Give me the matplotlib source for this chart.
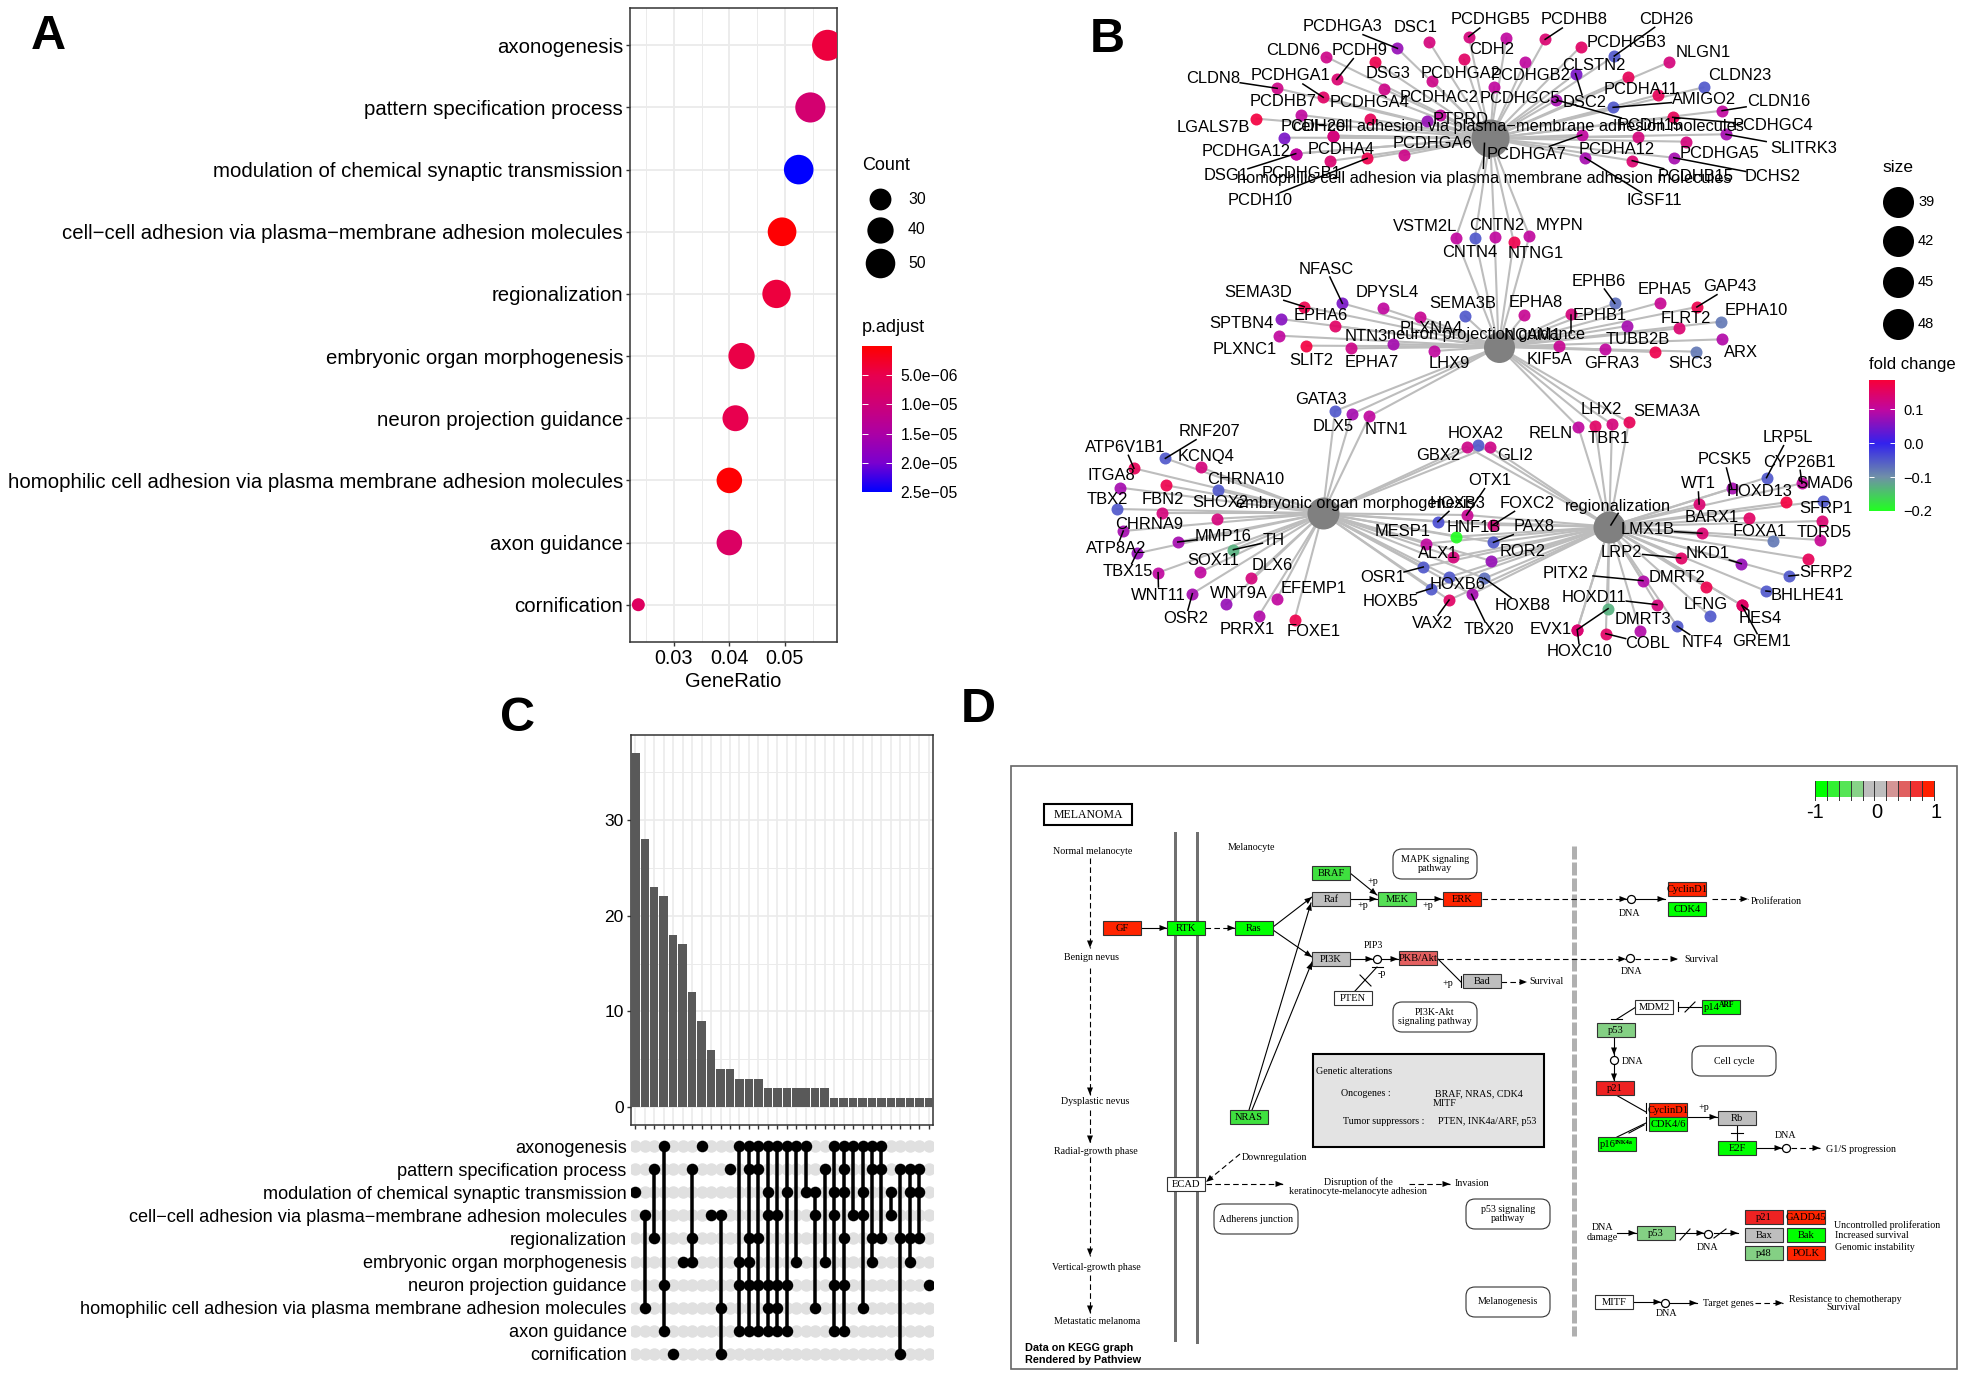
import numpy as np
import matplotlib
matplotlib.use('Agg')
import matplotlib.pyplot as plt
from matplotlib.colors import LinearSegmentedColormap, Normalize
from matplotlib.patches import Rectangle, FancyBboxPatch

plt.rcParams['font.family'] = ['Liberation Sans', 'DejaVu Sans']

W, H = 1965, 1378
DPI = 100

# ---- panel A data
terms = ['axonogenesis', 'pattern specification process',
         'modulation of chemical synaptic transmission',
         'cell\u2212cell adhesion via plasma\u2212membrane adhesion molecules',
         'regionalization', 'embryonic organ morphogenesis',
         'neuron projection guidance',
         'homophilic cell adhesion via plasma membrane adhesion molecules',
         'axon guidance', 'cornification']
gene_ratio = [0.0577, 0.0546, 0.0525, 0.0495, 0.0485, 0.0422, 0.0411, 0.0400, 0.0400, 0.0236]
counts = [55, 52, 50, 47, 46, 40, 39, 38, 38, 22]
p_adjust = [4e-6, 9e-6, 2.5e-5, 2e-7, 4e-6, 4.5e-6, 5e-6, 2e-7, 7.5e-6, 7e-6]
count_legend = [30, 40, 50]
padj_ticks = [5e-6, 1e-5, 1.5e-5, 2e-5, 2.5e-5]
padj_labels = ['5.0e\u221206', '1.0e\u221205', '1.5e\u221205', '2.0e\u221205', '2.5e\u221205']

# ---- panel B data: (gene, node x, node y, fold change, label x, label y, has segment)
# x, y measured on an enlargement of the panel
adhesion_nodes = [
    ('PCDHGA3', 565, 145, .07, 468, 80, 1), ('DSC1', 622, 127, .13, 598, 82, 0),
    ('PCDHGB5', 692, 110, .13, 730, 60, 1), ('CDH2', 759, 113, .1, 733, 150, 0),
    ('PCDHB8', 828, 118, .14, 880, 60, 1), ('PCDHGB3', 891, 140, .15, 972, 128, 0),
    ('CDH26', 951, 168, -.05, 1043, 58, 1), ('', 683, 178, .15, 0, 0, 0),
    ('CLDN6', 438, 170, .12, 380, 152, 0), ('PCDH9', 457, 238, .14, 498, 152, 1),
    ('', 525, 186, .17, 0, 0, 0), ('CLDN8', 351, 265, .12, 237, 236, 1),
    ('PCDHGA1', 433, 292, .15, 375, 228, 1), ('DSG3', 542, 268, .12, 548, 220, 0),
    ('PCDHGA2', 626, 242, .12, 678, 222, 0), ('PCDHGB2', 792, 187, .1, 802, 225, 0),
    ('PCDHGC5', 737, 260, .1, 783, 295, 0), ('DSC2', 882, 221, .05, 898, 308, 1),
    ('CLSTN2', 976, 231, .16, 915, 195, 0), ('NLGN1', 1048, 187, .13, 1110, 157, 0),
    ('CLDN23', 1110, 262, -.05, 1175, 226, 0), ('PCDHA11', 1028, 285, .16, 998, 267, 0),
    ('AMIGO2', 949, 322, -.05, 1110, 300, 1), ('CLDN16', 1143, 332, .1, 1243, 305, 1),
    ('PCDH15', 848, 300, .08, 1015, 378, 1), ('PCDHGC4', 1055, 352, .16, 1233, 378, 1),
    ('PCDHB7', 393, 345, .1, 362, 305, 0), ('PCDHGA4', 516, 358, .16, 515, 308, 0),
    ('PCDHAC2', 640, 345, .1, 640, 293, 0), ('PTPRD', 617, 362, .07, 678, 360, 0),
    ('LGALS7B', 314, 356, .18, 237, 382, 0), ('PCDH20', 364, 413, .05, 415, 380, 0),
    ('', 451, 407, .13, 0, 0, 0), ('PCDHGA12', 384, 461, .1, 295, 453, 0),
    ('PCDHA4', 445, 483, .14, 465, 450, 0), ('PCDH10', 511, 475, .17, 320, 602, 1),
    ('DSG1', 384, 461, .1, 260, 527, 1), ('PCDHGB1', 451, 407, .13, 395, 520, 0),
    ('PCDHGA6', 577, 465, .12, 627, 432, 0), ('PCDHGA7', 893, 405, .1, 795, 463, 1),
    ('IGSF11', 899, 473, .08, 1023, 602, 1), ('PCDHA12', 993, 410, .13, 955, 450, 0),
    ('PCDHB15', 983, 482, .14, 1095, 530, 1), ('PCDHGA5', 1079, 425, .13, 1138, 462, 0),
    ('DCHS2', 1057, 473, .08, 1233, 530, 1), ('SLITRK3', 1150, 403, .08, 1288, 445, 1),
]
shared_adhesion_guidance = [
    ('VSTM2L', 669, 713, .1, 615, 680, 0), ('CNTN4', 703, 713, -.05, 693, 757, 0),
    ('CNTN2', 738, 710, .1, 742, 677, 0), ('NTNG1', 772, 725, .17, 812, 762, 0),
    ('MYPN', 800, 708, .1, 853, 677, 0),
]
guidance_nodes = [
    ('NFASC', 467, 910, .05, 438, 807, 1), ('SEMA3D', 399, 920, .17, 317, 877, 1),
    ('DPYSL4', 539, 925, .1, 547, 877, 0), ('SPTBN4', 357, 957, .06, 288, 970, 0),
    ('EPHA6', 454, 978, .15, 428, 948, 0), ('SEMA3B', 685, 947, -.05, 682, 912, 0),
    ('PLXNA4', 606, 950, .11, 625, 985, 0), ('EPHA8', 791, 945, .11, 811, 908, 0),
    ('EPHB6', 952, 910, -.07, 923, 843, 1), ('EPHA5', 1032, 908, .11, 1040, 870, 0),
    ('GAP43', 1098, 921, .17, 1157, 860, 1), ('EPHA10', 1141, 965, -.08, 1204, 932, 0),
    ('EPHB1', 974, 978, .08, 925, 948, 0), ('FLRT2', 1067, 985, .14, 1078, 955, 0),
    ('TUBB2B', 1023, 1056, .17, 992, 1020, 0), ('PLXNC1', 355, 1007, .1, 293, 1047, 0),
    ('SLIT2', 403, 1037, .18, 411, 1082, 0), ('NTN3', 557, 1032, .08, 510, 1010, 0),
    ('EPHA7', 483, 1045, .12, 520, 1087, 0), ('LHX9', 631, 1053, .1, 657, 1090, 0),
    ('KIF5A', 853, 1038, .11, 836, 1077, 0), ('GFRA3', 934, 1048, .1, 947, 1092, 0),
    ('SHC3', 1097, 1055, -.08, 1087, 1090, 0), ('ARX', 1143, 1018, .09, 1177, 1057, 0),
    ('NCAM1', 874, 942, .13, 806, 1005, 0),
]
shared_guidance_organ = [
    ('GATA3', 454, 1233, -.05, 428, 1200, 0), ('DLX5', 484, 1242, .08, 450, 1280, 0),
    ('NTN1', 515, 1249, .1, 545, 1287, 0),
]
shared_guidance_region = [
    ('RELN', 887, 1281, .1, 837, 1300, 0), ('LHX2', 917, 1277, .15, 928, 1230, 0),
    ('TBR1', 947, 1273, .13, 941, 1315, 0), ('SEMA3A', 977, 1267, .16, 1045, 1233, 0),
]
organ_nodes = [
    ('RNF207', 152, 1375, -.05, 230, 1295, 1), ('ATP6V1B1', 96, 1405, .16, 80, 1342, 1),
    ('KCNQ4', 215, 1402, .13, 225, 1368, 0), ('ITGA8', 71, 1463, .08, 55, 1428, 0),
    ('CHRNA10', 246, 1471, -.05, 295, 1438, 0), ('FBN2', 153, 1456, .17, 147, 1500, 0),
    ('TBX2', 65, 1527, -.05, 48, 1497, 0), ('SHOX2', 244, 1556, .13, 250, 1508, 0),
    ('CHRNA9', 146, 1540, .13, 123, 1573, 0), ('ATP8A2', 77, 1593, .08, 65, 1645, 1),
    ('MMP16', 174, 1626, .08, 255, 1610, 1), ('TBX15', 101, 1660, .07, 85, 1715, 1),
    ('TH', 273, 1649, -.13, 345, 1622, 1), ('SOX11', 213, 1717, .1, 237, 1682, 0),
    ('DLX6', 305, 1735, .13, 342, 1696, 0), ('WNT11', 139, 1718, .1, 140, 1785, 1),
    ('OSR2', 200, 1781, .08, 188, 1855, 1), ('WNT9A', 260, 1813, .07, 283, 1780, 0),
    ('EFEMP1', 350, 1798, .1, 415, 1765, 0), ('PRRX1', 318, 1848, .09, 298, 1887, 0),
    ('FOXE1', 382, 1859, .17, 415, 1895, 0),
]
shared_organ_region = [
    ('HOXA2', 709, 1335, -.05, 704, 1300, 0), ('GBX2', 688, 1340, .12, 638, 1368, 0),
    ('GLI2', 729, 1340, .12, 775, 1368, 0), ('OTX1', 688, 1545, .11, 730, 1442, 1),
    ('HOXB3', 637, 1565, -.04, 672, 1510, 1), ('FOXC2', 735, 1575, .13, 796, 1510, 1),
    ('HNF1B', 670, 1610, -.2, 700, 1582, 0), ('PAX8', 736, 1627, -.05, 808, 1580, 1),
    ('MESP1', 615, 1631, .1, 575, 1593, 0), ('ALX1', 664, 1671, .13, 637, 1662, 0),
    ('ROR2', 731, 1682, .07, 787, 1655, 0), ('OSR1', 611, 1701, -.05, 538, 1733, 1),
    ('HOXB6', 657, 1731, -.05, 672, 1753, 0), ('HOXB8', 720, 1735, -.07, 787, 1817, 1),
    ('HOXB5', 624, 1766, -.05, 553, 1803, 1), ('VAX2', 657, 1800, .15, 627, 1870, 1),
    ('TBX20', 697, 1783, .08, 728, 1890, 1),
]
region_nodes = [
    ('LRP5L', 1222, 1433, -.05, 1260, 1313, 1), ('PCSK5', 1160, 1465, .08, 1147, 1380, 1),
    ('CYP26B1', 1285, 1450, .1, 1280, 1387, 1), ('HOXD13', 1257, 1507, .18, 1210, 1473, 0),
    ('SMAD6', 1323, 1503, -.05, 1325, 1452, 0), ('SFRP1', 1320, 1563, .14, 1327, 1525, 0),
    ('WT1', 1102, 1512, .14, 1100, 1452, 1), ('BARX1', 1191, 1553, .15, 1125, 1553, 0),
    ('FOXA1', 1234, 1623, -.08, 1210, 1593, 0), ('TDRD5', 1317, 1620, .11, 1325, 1598, 0),
    ('LMX1B', 1107, 1600, .14, 1010, 1590, 1), ('NKD1', 1177, 1691, .07, 1117, 1660, 1),
    ('LRP2', 1069, 1674, .15, 963, 1657, 1), ('SFRP2', 1262, 1728, -.05, 1327, 1717, 1),
    ('', 1296, 1677, .16, 0, 0, 0), ('PITX2', 1002, 1742, .09, 865, 1720, 1),
    ('DMRT2', 1114, 1761, .17, 1062, 1732, 0), ('BHLHE41', 1221, 1773, -.05, 1295, 1787, 1),
    ('HOXD11', 1027, 1814, .13, 915, 1792, 1), ('LFNG', 1121, 1847, -.05, 1113, 1813, 0),
    ('HES4', 1178, 1816, .15, 1210, 1855, 1), ('GREM1', 1178, 1816, .15, 1213, 1925, 1),
    ('DMRT3', 997, 1893, .09, 1002, 1858, 0), ('NTF4', 1063, 1879, -.05, 1107, 1928, 1),
    ('EVX1', 885, 1889, .14, 838, 1888, 0), ('HOXC10', 885, 1889, .14, 890, 1955, 1),
    ('', 940, 1826, -.13, 885, 1889, 1), ('COBL', 936, 1901, .15, 1010, 1932, 1),
]
# hub x, y, diameter in pixels
adhesion_hub = (730, 415, 38)
guidance_hub = (745, 1040, 31)
organ_hub = (432, 1540, 32)
region_hub = (942, 1580, 32)
extra_segments = [(720, 430, 718, 505), (945, 1575, 958, 1540), (874, 945, 874, 1000)]
size_legend = [39, 42, 45, 48]
fc_ticks = [0.1, 0.0, -0.1, -0.2]
fc_labels = ['0.1', '0.0', '\u22120.1', '\u22120.2']

# ---- panel C data
set_sizes = [37, 28, 23, 22, 18, 17, 12, 9, 6, 4, 4, 3, 3, 3, 2, 2, 2, 2, 2, 2, 2,
             1, 1, 1, 1, 1, 1, 1, 1, 1, 1, 1]
set_members = [[3], [4, 8], [2, 5], [1, 7, 9], [10], [6], [2, 5, 6], [1], [4], [4, 8, 10],
               [2], [1, 6, 7, 9], [1, 2, 5, 6, 7, 9], [1, 2, 5, 7, 9], [1, 3, 4, 7, 8, 9],
               [1, 4, 7, 8, 9], [1, 3, 7, 9], [1, 6], [1, 3], [3, 4, 8], [2, 6],
               [1, 3, 4, 7, 9], [1, 2, 3, 5, 7, 9], [1, 4], [1, 3, 4, 8], [1, 2, 5, 6],
               [1, 2, 5], [3, 4], [2, 5, 10], [2, 3, 5, 6], [2, 3, 5], [7]]

# ---- panel D data: (label, centre x, centre y, fill)
RED, GREEN, LGREEN, MGREEN, GREY, WHITE = '#FF2400', '#00FF00', '#84D084', '#3FE03F', '#BEBEBE', '#FFFFFF'
kegg_boxes = [
    ('BRAF', 1331, 873, MGREEN), ('Raf', 1331, 899, GREY), ('MEK', 1397, 899, '#55E055'),
    ('ERK', 1462, 899, RED), ('GF', 1122, 928, RED), ('RTK', 1186, 928, GREEN),
    ('Ras', 1254, 928, GREEN), ('PI3K', 1331, 959, GREY), ('PKB/Akt', 1418, 958, '#E46060'),
    ('Bad', 1482, 981, GREY), ('PTEN', 1353, 998, WHITE), ('CyclinD1', 1687, 889, RED),
    ('CDK4', 1687, 909, GREEN), ('MDM2', 1654, 1007, WHITE), ('p14', 1721, 1007, GREEN),
    ('p53', 1616, 1030, LGREEN), ('p21', 1615, 1088, '#EE2222'), ('CyclinD1', 1668, 1110, RED),
    ('CDK4/6', 1668, 1124, GREEN), ('Rb', 1737, 1118, GREY), ('p16', 1617, 1144, GREEN),
    ('E2F', 1737, 1148, GREEN), ('NRAS', 1249, 1117, MGREEN), ('ECAD', 1186, 1184, WHITE),
    ('p53', 1656, 1233, LGREEN), ('p21', 1764, 1217, '#EE2222'), ('GADD45', 1806, 1217, RED),
    ('Bax', 1764, 1235, GREY), ('Bak', 1806, 1235, GREEN), ('p48', 1764, 1253, LGREEN),
    ('POLK', 1806, 1253, RED), ('MITF', 1614, 1302, WHITE),
]
kegg_round = [
    ('MAPK signaling\npathway', 1435, 864), ('PI3K-Akt\nsignaling pathway', 1435, 1017),
    ('Cell cycle', 1734, 1061), ('Adherens junction', 1256, 1219),
    ('p53 signaling\npathway', 1508, 1214), ('Melanogenesis', 1508, 1302),
]
kegg_text = [
    ('Normal melanocyte', 1093, 851), ('Benign nevus', 1092, 957), ('Dysplastic nevus', 1095, 1102),
    ('Radial-growth phase', 1096, 1151), ('Vertical-growth phase', 1096, 1268),
    ('Metastatic melanoma', 1097, 1322), ('Melanocyte', 1251, 847), ('Proliferation', 1776, 901),
    ('DNA', 1630, 913), ('PIP3', 1373, 946), ('Survival', 1702, 960), ('DNA', 1632, 972),
    ('Survival', 1547, 982), ('+p', 1373, 882), ('+p', 1363, 906), ('+p', 1428, 906),
    ('+p', 1448, 983), ('-p', 1382, 973), ('DNA', 1633, 1062), ('+p', 1704, 1108),
    ('DNA', 1786, 1136), ('G1/S progression', 1861, 1149), ('Downregulation', 1274, 1158),
    ('Disruption of the', 1358, 1182), ('keratinocyte-melanocyte adhesion', 1358, 1191),
    ('Invasion', 1472, 1184), ('DNA', 1603, 1228), ('damage', 1602, 1238), ('DNA', 1708, 1247),
    ('DNA', 1667, 1313), ('Target genes', 1728, 1304), ('Resistance to chemotherapy', 1845, 1299),
    ('Survival', 1844, 1308),
]
kegg_left_text = [
    ('Genetic alterations', 1316, 1072), ('Oncogenes :', 1341, 1094), ('BRAF, NRAS, CDK4', 1435, 1094),
    ('MITF', 1433, 1104), ('Tumor suppressors :', 1343, 1121), ('PTEN, INK4a/ARF, p53', 1438, 1121),
    ('Uncontrolled proliferation', 1834, 1225), ('Increased survival', 1835, 1236),
    ('Genomic instability', 1835, 1248),
]
# (x0, y0, x1, y1, dashed)
kegg_arrows = [
    (1090, 858, 1090, 948, 1), (1090, 968, 1090, 1095, 1), (1090, 1110, 1090, 1143, 1),
    (1090, 1157, 1090, 1256, 1), (1090, 1275, 1090, 1313, 1),
    (1141, 928, 1167, 928, 0), (1205, 928, 1235, 928, 1), (1273, 927, 1312, 897, 0),
    (1273, 930, 1312, 957, 0), (1249, 1110, 1311, 903, 0), (1252, 1110, 1312, 962, 0),
    (1350, 873, 1377, 895, 0), (1350, 899, 1377, 899, 0), (1417, 899, 1442, 899, 0),
    (1482, 899, 1627, 899, 1), (1636, 899, 1665, 899, 0), (1712, 899, 1748, 899, 1),
    (1350, 959, 1373, 959, 0), (1381, 959, 1398, 959, 0), (1438, 959, 1626, 959, 1),
    (1635, 959, 1678, 959, 1), (1501, 982, 1527, 982, 1), (1614, 1038, 1614, 1055, 0),
    (1614, 1064, 1614, 1081, 0), (1688, 1117, 1717, 1117, 0), (1756, 1148, 1782, 1148, 0),
    (1791, 1148, 1820, 1148, 1), (1240, 1154, 1206, 1182, 1), (1206, 1184, 1283, 1184, 1),
    (1409, 1184, 1450, 1184, 1), (1617, 1233, 1636, 1233, 0), (1676, 1233, 1704, 1233, 0),
    (1714, 1233, 1738, 1233, 0), (1634, 1302, 1661, 1302, 0), (1670, 1303, 1697, 1303, 0),
    (1755, 1303, 1783, 1303, 1),
]
# plain lines: inhibition edges, their bars and crossings
kegg_lines = [
    (1438, 959, 1461, 982), (1461, 976, 1461, 987), (1355, 991, 1377, 967), (1372, 967, 1383, 967),
    (1360, 975, 1371, 986), (1636, 1007, 1617, 1019), (1611, 1019, 1622, 1019),
    (1702, 1007, 1678, 1007), (1678, 1002, 1678, 1011), (1685, 1012, 1695, 1002),
    (1616, 1095, 1646, 1112), (1646, 1103, 1646, 1113), (1646, 1117, 1646, 1130),
    (1617, 1137, 1646, 1123), (1629, 1133, 1644, 1125), (1737, 1125, 1737, 1141),
    (1731, 1133, 1743, 1133), (1680, 1240, 1690, 1229), (1714, 1238, 1726, 1229),
]
kegg_circles = [(1631, 899), (1377, 959), (1630, 958), (1614, 1060), (1786, 1148), (1708, 1234), (1665, 1303)]
key_colors = ['#00FF00', '#33F033', '#55E555', '#88D288', '#BEBEBE', '#BEBEBE', '#D49595', '#E06060', '#F03030', '#FF2000']
key_labels = ['-1', '0', '1']


def px_axes(left, top, right, bottom):
    return fig.add_axes([left / W, 1 - bottom / H, (right - left) / W, (bottom - top) / H])


def px2pt(v):
    return v * 72.0 / DPI


fig = plt.figure(figsize=(W / DPI, H / DPI), dpi=DPI, facecolor='white')

# ---- A: dot plot
padj_cmap = LinearSegmentedColormap.from_list('padj', ['#FF0000', '#E8004F', '#CE0078', '#AC00A5', '#7B00CF', '#0000FF'])
padj_norm = Normalize(0, 2.5e-5)


def count_size(c):
    d = 13 + 18 * np.sqrt((np.asarray(c, float) - 22) / 33.0)
    return px2pt(d) ** 2


ax = px_axes(630, 8, 837, 642)
ax.set_xlim(0.0221, 0.0594)
ax.set_ylim(10.6, 0.4)
ax.set_axisbelow(True)
ax.set_xticks([0.03, 0.04, 0.05])
ax.set_xticks([0.025, 0.035, 0.045, 0.055], minor=True)
ax.set_xticklabels(['0.03', '0.04', '0.05'], fontsize=14.2)
ax.set_yticks(range(1, 11))
ax.set_yticklabels(terms, fontsize=14.7)
ax.tick_params(axis='both', which='major', length=3, width=1, color='#333333', pad=2)
ax.tick_params(axis='x', which='minor', length=0)
ax.grid(which='major', color='#EBEBEB', lw=1.3)
ax.grid(which='minor', color='#EBEBEB', lw=0.7)
ax.scatter(gene_ratio, range(1, 11), s=count_size(counts), c=p_adjust, cmap=padj_cmap, norm=padj_norm, zorder=3, lw=0)
ax.set_xlabel('GeneRatio', fontsize=14.5, labelpad=3)
for s in ax.spines.values():
    s.set_color('#333333')
    s.set_linewidth(1.1)

cax = px_axes(862, 346, 892, 492)
cax.imshow(np.linspace(0, 2.5e-5, 256)[:, None], aspect='auto', cmap=padj_cmap, norm=padj_norm, extent=[0, 1, 2.5e-5, 0])
cax.hlines(padj_ticks, 0, 0.2, color='white', lw=0.7)
cax.hlines(padj_ticks, 0.8, 1, color='white', lw=0.7)
cax.set_xticks([])
cax.yaxis.tick_right()
cax.set_yticks(padj_ticks)
cax.set_yticklabels(padj_labels, fontsize=11.3)
cax.tick_params(length=0, pad=6)
for s in cax.spines.values():
    s.set_visible(False)

# ---- pixel overlay used for panel B, panel D and legends
pax = fig.add_axes([0, 0, 1, 1], facecolor='none')
pax.set_xlim(0, W)
pax.set_ylim(H, 0)
pax.axis('off')

for name, x, y in [('A', 31, 49), ('B', 1090, 52), ('C', 500, 731), ('D', 961, 722)]:
    pax.text(x, y, name, fontsize=35, fontweight='bold', ha='left', va='baseline')

pax.text(862, 166, 'Count', fontsize=13, va='center')
pax.text(862, 328, 'p.adjust', fontsize=13, va='center')
for c, y in zip(count_legend, [199, 230, 263]):
    pax.scatter([880], [y], s=count_size(c), color='black', lw=0)
    pax.text(908, y, str(c), fontsize=11.3, va='center')

# ---- B: gene-concept network
fc_cmap = LinearSegmentedColormap.from_list('fc', [(0, '#22FF22'), (0.1 / 0.387, '#7090A8'), (0.2 / 0.387, '#3322EE'),
                                                   (0.3 / 0.387, '#C008A0'), (1, '#F8003A')])
fc_norm = Normalize(-0.2, 0.187)


def bx(v):
    return 1080 + np.asarray(v, float) / 1.78


def by(v):
    return np.asarray(v, float) / 3.0


groups = [(adhesion_nodes, [adhesion_hub]), (shared_adhesion_guidance, [adhesion_hub, guidance_hub]),
          (guidance_nodes, [guidance_hub]), (shared_guidance_organ, [guidance_hub, organ_hub]),
          (shared_guidance_region, [guidance_hub, region_hub]), (organ_nodes, [organ_hub]),
          (shared_organ_region, [organ_hub, region_hub]), (region_nodes, [region_hub])]

for rows, hubs in groups:
    for row in rows:
        for hub in hubs:
            pax.plot(bx([row[1], hub[0]]), by([row[2], hub[1]]), color='#BDBDBD', lw=1.5, zorder=1, solid_capstyle='round')
for hub in [adhesion_hub, guidance_hub, organ_hub, region_hub]:
    pax.scatter(bx(hub[0]), by(hub[1]), s=px2pt(hub[2]) ** 2, color='#808080', lw=0, zorder=2)
for rows, hubs in groups:
    for name, x, y, fc, lx, ly, seg in rows:
        pax.scatter(bx(x), by(y), s=px2pt(12) ** 2, color=fc_cmap(fc_norm(fc)), alpha=0.92, lw=0, zorder=3)
        if seg:
            # ggrepel style segment from the label box edge to the node
            dx, dy = bx(x) - bx(lx), by(y) - by(ly)
            hw, hh = len(name) * 5.2 + 1, 8
            t = min(hw / max(abs(dx), 1e-6), hh / max(abs(dy), 1e-6), 1)
            pax.plot([bx(lx) + t * dx, bx(x)], [by(ly) + t * dy, by(y)], color='black', lw=1.1, zorder=4)
        if name:
            pax.text(bx(lx), by(ly), name, fontsize=11.9, ha='center', va='center', zorder=5)

for x0, y0, x1, y1 in extra_segments:
    pax.plot(bx([x0, x1]), by([y0, y1]), color='black', lw=1.1, zorder=4)
pax.text(bx(780), by(380), terms[3], fontsize=11.8, ha='center', va='center', zorder=5)
pax.text(bx(720), by(535), terms[7], fontsize=11.8, ha='center', va='center', zorder=5)
pax.text(bx(722), by(1002), terms[6], fontsize=11.8, ha='center', va='center', zorder=5)
pax.text(bx(490), by(1510), terms[5], fontsize=11.8, ha='center', va='center', zorder=5)
pax.text(bx(958), by(1520), terms[4], fontsize=11.8, ha='center', va='center', zorder=5)

pax.text(1882, 168, 'size', fontsize=12.5, ha='left', va='center')
for s, y in zip(size_legend, [202, 241, 282, 324]):
    pax.scatter([1898], [y], s=px2pt(31) ** 2, color='black', lw=0)
    pax.text(1918, y, str(s), fontsize=10.5, va='center')
pax.text(1869, 365, 'fold change', fontsize=12, ha='left', va='center')

fax = px_axes(1869, 380, 1895, 511)
fax.imshow(np.linspace(0.187, -0.2, 256)[:, None], aspect='auto', cmap=fc_cmap, norm=fc_norm, extent=[0, 1, -0.2, 0.187])
fax.hlines(fc_ticks[:3], 0, 0.2, color='white', lw=0.7)
fax.hlines(fc_ticks[:3], 0.8, 1, color='white', lw=0.7)
fax.set_xticks([])
fax.yaxis.tick_right()
fax.set_yticks(fc_ticks)
fax.set_yticklabels(fc_labels, fontsize=10.5)
fax.tick_params(length=0, pad=6)
for s in fax.spines.values():
    s.set_visible(False)

# ---- C: upset plot
bar_ax = px_axes(630.7, 735, 933, 1125)
bar_ax.bar(range(1, 33), set_sizes, width=0.9, color='#595959', zorder=3)
bar_ax.set_xlim(0.515, 32.44)
bar_ax.set_ylim(-1.85, 38.85)
bar_ax.set_axisbelow(True)
bar_ax.set_xticks(range(1, 33))
bar_ax.set_xticklabels([])
bar_ax.set_yticks([0, 10, 20, 30])
bar_ax.set_yticks([5, 15, 25, 35], minor=True)
bar_ax.set_yticklabels(['0', '10', '20', '30'], fontsize=12.5)
bar_ax.tick_params(axis='both', which='major', length=3, width=1, color='#333333', pad=2)
bar_ax.tick_params(axis='y', which='minor', length=0)
bar_ax.grid(which='major', color='#EBEBEB', lw=1.2)
bar_ax.grid(which='minor', color='#EBEBEB', lw=0.7)
for s in bar_ax.spines.values():
    s.set_color('#333333')
    s.set_linewidth(1.1)

mat_ax = px_axes(630.7, 1130, 933, 1366)
mat_ax.set_xlim(0.515, 32.44)
mat_ax.set_ylim(10.52, 0.307)
cols, rows_ = np.meshgrid(range(1, 33), range(1, 11))
mat_ax.scatter(cols.ravel(), rows_.ravel(), s=px2pt(12.5) ** 2, color='#E0E0E0', lw=0, zorder=1)
for k, members in enumerate(set_members, start=1):
    mat_ax.scatter([k] * len(members), members, s=px2pt(11.5) ** 2, color='black', lw=0, zorder=3)
    if len(members) > 1:
        mat_ax.plot([k, k], [min(members), max(members)], color='black', lw=px2pt(3.5), zorder=2)
mat_ax.set_xticks([])
mat_ax.set_yticks(range(1, 11))
mat_ax.set_yticklabels(terms, fontsize=13.1)
mat_ax.tick_params(length=0, pad=3)
for s in mat_ax.spines.values():
    s.set_visible(False)

# ---- D: KEGG pathway image
SERIF = ['Liberation Serif', 'DejaVu Serif']
pax.add_patch(Rectangle((1011, 766), 946, 603, fc='white', ec='#666666', lw=1.2, zorder=1))
pax.plot([1175, 1175], [833, 1340], color='#707070', lw=px2pt(3), zorder=2)
pax.plot([1197, 1197], [833, 1342], color='#707070', lw=px2pt(3), zorder=2)
pax.plot([1574, 1574], [846, 1336], color='#B0B0B0', lw=px2pt(5), ls=(0, (2.6, 0.6)), zorder=2)
pax.add_patch(Rectangle((1044, 804), 88, 21, fc='white', ec='black', lw=1.5, zorder=3))
pax.text(1088, 814.5, 'MELANOMA', family=SERIF, fontsize=8.5, ha='center', va='center', zorder=6)
pax.add_patch(Rectangle((1313, 1054), 231, 93, fc='#E3E3E3', ec='black', lw=1.5, zorder=2))


def draw_arrow(x0, y0, x1, y1, dashed):
    ls = (0, (5, 3)) if dashed else '-'
    pax.plot([x0, x1], [y0, y1], color='black', lw=0.8, ls=ls, zorder=3)
    d = np.hypot(x1 - x0, y1 - y0)
    ux, uy = (x1 - x0) / d, (y1 - y0) / d
    L, hw = 7.5, 3
    pax.fill([x1, x1 - L * ux - hw * uy, x1 - L * ux + hw * uy],
             [y1, y1 - L * uy + hw * ux, y1 - L * uy - hw * ux], color='black', lw=0, zorder=4)


for x0, y0, x1, y1, dashed in kegg_arrows:
    draw_arrow(x0, y0, x1, y1, dashed)
for x0, y0, x1, y1 in kegg_lines:
    pax.plot([x0, x1], [y0, y1], color='black', lw=0.8, zorder=3)
pax.scatter(*zip(*kegg_circles), s=px2pt(8) ** 2, fc='white', ec='black', lw=0.9, zorder=5)

for label, x, y, fill in kegg_boxes:
    pax.add_patch(Rectangle((x - 19, y - 7), 38, 14, fc=fill, ec='#333333', lw=0.8, zorder=5))
    tx = x - 9 if label in ('p14', 'p16') else x
    pax.text(tx, y + 0.5, label, family=SERIF, fontsize=7.6, ha='center', va='center', zorder=6)
pax.text(1727, 1005, 'ARF', family=SERIF, fontsize=5.5, fontweight='bold', ha='center', va='center', zorder=6)
pax.text(1624, 1142, 'INK4a', family=SERIF, fontsize=4.5, fontweight='bold', ha='center', va='center', zorder=6)
for label, x, y in kegg_round:
    pax.add_patch(FancyBboxPatch((x - 35, y - 8), 70, 16, boxstyle='round,pad=7,rounding_size=9',
                                 fc='white', ec='#333333', lw=0.8, zorder=3))
    pax.text(x, y, label, family=SERIF, fontsize=7.2, ha='center', va='center', linespacing=0.9, zorder=6)
for label, x, y in kegg_text:
    pax.text(x, y, label, family=SERIF, fontsize=7.2, ha='center', va='center', zorder=6)
for label, x, y in kegg_left_text:
    pax.text(x, y, label, family=SERIF, fontsize=7.2, ha='left', va='center', zorder=6)

for i, c in enumerate(key_colors):
    pax.add_patch(Rectangle((1815 + i * 11.9, 781), 11.9, 15.5, fc=c, lw=0, zorder=3))
    pax.plot([1815 + i * 11.9] * 2, [781, 800], color='#333333', lw=0.7, zorder=4)
pax.plot([1934, 1934], [781, 800], color='#333333', lw=0.7, zorder=4)
for lab, x in zip(key_labels, [1815, 1877, 1936]):
    pax.text(x, 812, lab, fontsize=14.5, ha='center', va='center', zorder=6)

pax.text(1025, 1348, 'Data on KEGG graph', fontsize=7.8, fontweight='bold', va='center', zorder=6)
pax.text(1025, 1360, 'Rendered by Pathview', fontsize=7.8, fontweight='bold', va='center', zorder=6)

fig.savefig('out.png', dpi=DPI)
